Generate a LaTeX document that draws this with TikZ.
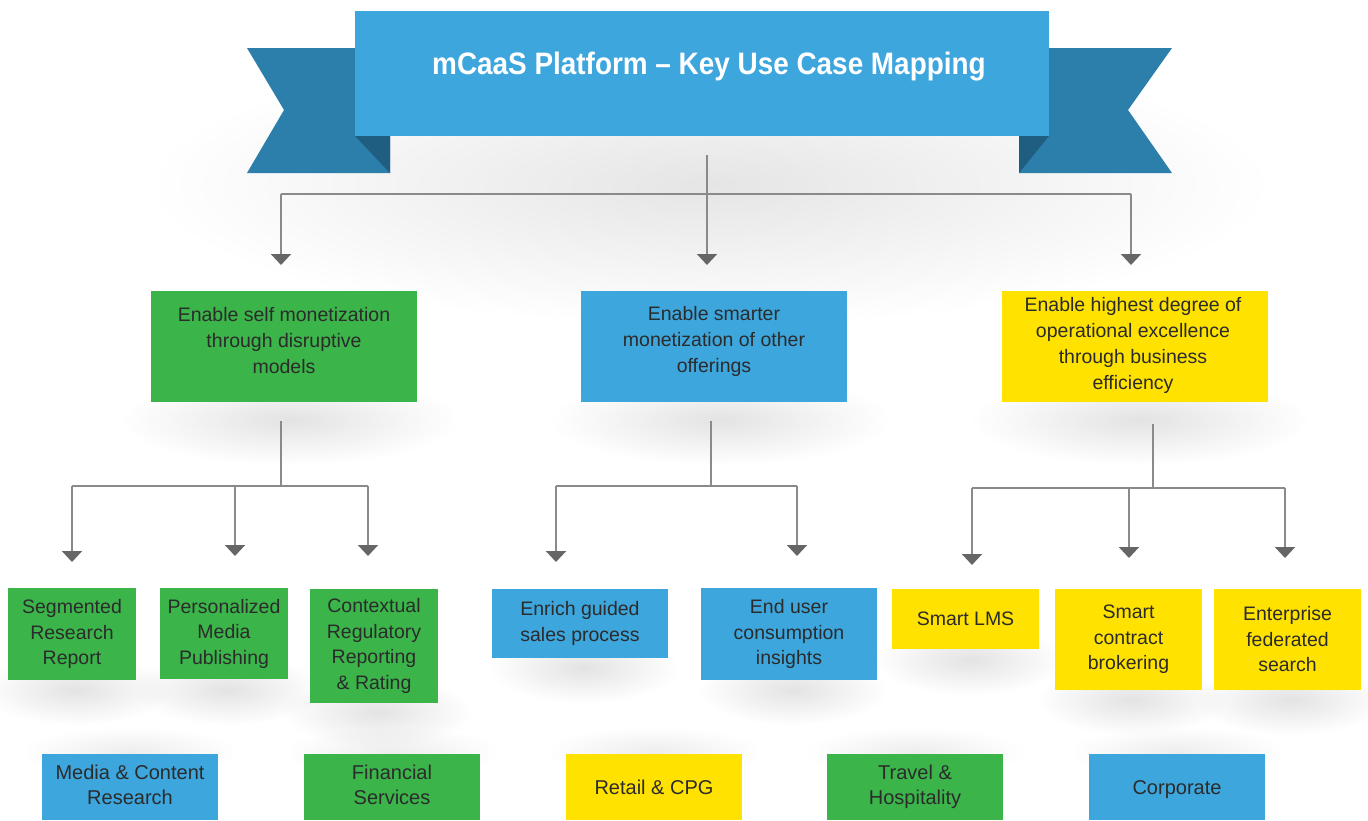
\documentclass[tikz,border=0pt]{standalone}
\usepackage{fontspec}
\setmainfont{Liberation Sans}
\usepackage{graphicx}
\usetikzlibrary{arrows.meta,fadings}
\definecolor{mblue}{HTML}{3DA6DD}
\definecolor{mgreen}{HTML}{3BB44A}
\definecolor{myellow}{HTML}{FFE200}
\definecolor{tailblue}{HTML}{2D7FAB}
\definecolor{foldblue}{HTML}{1F5E80}
\definecolor{txt}{HTML}{2B2B2B}
\definecolor{lineg}{HTML}{8A8A8A}
\definecolor{headg}{HTML}{666666}
\tikzfading[name=softfade, inner color=transparent!0, outer color=transparent!100]
\begin{document}
\begin{tikzpicture}[x=1pt,y=-1pt,
  box/.style={inner sep=0pt, outer sep=0pt, align=center, text=txt, font=\fontsize{19.5}{26}\selectfont},
  leaf/.style={box, font=\fontsize{19.5}{25.5}\selectfont},
  sector/.style={box, font=\fontsize{20}{25}\selectfont},
  conn/.style={draw=lineg, line width=2pt},
  arr/.style={conn, -{Triangle[width=20pt,length=11pt,color=headg]}},
  shadowfx/.style={fill=black, opacity=0.11, path fading=softfade}
]
\useasboundingbox (0,0) rectangle (1368,820);
\fill[white] (0,0) rectangle (1368,820);

% soft shadows
\fill[shadowfx, opacity=0.10] (710,185) ellipse (560 and 140);
\fill[shadowfx] (290,420) ellipse (170 and 45);
\fill[shadowfx] (720,420) ellipse (170 and 45);
\fill[shadowfx] (1140,420) ellipse (170 and 45);
\foreach \cx/\cy in {76/690, 228/690, 378/712, 584/668, 793/690, 970/660, 1132/700, 1291/700}
  \fill[shadowfx] (\cx,\cy) ellipse (95 and 35);
\foreach \cx in {130,392,654,915,1177}
  \fill[shadowfx, opacity=0.07] (\cx,752) ellipse (110 and 25);

% banner
\fill[tailblue] (247,48) -- (390,48) -- (390,173) -- (247,173) -- (284,110) -- cycle;
\fill[tailblue] (1019,48) -- (1172,48) -- (1128,110) -- (1172,173) -- (1019,173) -- cycle;
\fill[foldblue] (355,136) -- (390,136) -- (390,173) -- cycle;
\fill[foldblue] (1049,136) -- (1019,136) -- (1019,173) -- cycle;
\node[fill=mblue, inner sep=0pt, minimum width=694, minimum height=125] (banner) at (702,73.5) {};
\node[text=white, inner sep=0pt] (title) at (709,67)
  {\scalebox{0.9}[1]{\fontsize{31}{31}\selectfont\bfseries mCaaS Platform – Key Use Case Mapping}};

% level 1
\node[box, fill=mgreen, minimum width=266, minimum height=111] (g1) at (284,346.5) {};
\node[box] (g1t) at (284,341) {Enable self monetization\\through disruptive\\models};
\node[box, fill=mblue, minimum width=266, minimum height=111] (b1) at (714,346.5) {};
\node[box] (b1t) at (714,341) {Enable smarter\\monetization of other\\offerings};
\node[box, fill=myellow, minimum width=266, minimum height=111] (y1) at (1135,346.5) {};
\node[box] (y1t) at (1133,345) {Enable highest degree of\\operational excellence\\through business\\efficiency};

% leaves
\node[leaf, fill=mgreen, minimum width=128, minimum height=92] (l1) at (72,634) {Segmented\\Research\\Report};
\node[leaf, fill=mgreen, minimum width=128, minimum height=91] (l2) at (224,633.5) {Personalized\\Media\\Publishing};
\node[leaf, fill=mgreen, minimum width=128, minimum height=114] (l3) at (374,646) {Contextual\\Regulatory\\Reporting\\\& Rating};
\node[leaf, fill=mblue, minimum width=176, minimum height=69] (l4) at (580,623.5) {Enrich guided\\sales process};
\node[leaf, fill=mblue, minimum width=176, minimum height=92] (l5) at (789,634) {End user\\consumption\\insights};
\node[leaf, fill=myellow, minimum width=147, minimum height=60] (l6) at (965.5,619) {Smart LMS};
\node[leaf, fill=myellow, minimum width=147, minimum height=101] (l7) at (1128.5,639.5) {Smart\\contract\\brokering};
\node[leaf, fill=myellow, minimum width=147, minimum height=101] (l8) at (1287.5,639.5) {Enterprise\\federated\\search};

% sectors
\node[sector, fill=mblue, minimum width=176, minimum height=66] (s1) at (130,787) {};
\node[sector] (s1t) at (130,785) {Media \& Content\\Research};
\node[sector, fill=mgreen, minimum width=176, minimum height=66] (s2) at (392,787) {};
\node[sector] (s2t) at (392,785) {Financial\\Services};
\node[sector, fill=myellow, minimum width=176, minimum height=66] (s3) at (654,787) {Retail \& CPG};
\node[sector, fill=mgreen, minimum width=176, minimum height=66] (s4) at (915,787) {Travel \&\\Hospitality};
\node[sector, fill=mblue, minimum width=176, minimum height=66] (s5) at (1177,787) {};
\node[sector] (s5t) at (1177,790) {Corporate};

% connectors: top
\coordinate (t0) at (707,155);
\coordinate (tL) at (281,194);
\coordinate (tR) at (1131,194);
\coordinate (ta1) at (281,265);
\coordinate (ta2) at (707,265);
\coordinate (ta3) at (1131,265);
\draw[conn] (tL) -- (tR);
\draw[arr] (t0) -- (ta2);
\draw[arr] (tL) -- (ta1);
\draw[arr] (tR) -- (ta3);

% connectors: left group
\coordinate (g0) at (281,421);
\coordinate (gm) at (281,486);
\coordinate (gL) at (72,486);
\coordinate (gC) at (235,486);
\coordinate (gR) at (368,486);
\coordinate (ga1) at (72,562);
\coordinate (ga2) at (235,556);
\coordinate (ga3) at (368,556);
\draw[conn] (g0) -- (gm);
\draw[conn] (gL) -- (gR);
\draw[arr] (gL) -- (ga1);
\draw[arr] (gC) -- (ga2);
\draw[arr] (gR) -- (ga3);

% connectors: middle group
\coordinate (b0) at (711,421);
\coordinate (bm) at (711,486);
\coordinate (bL) at (556,486);
\coordinate (bR) at (797,486);
\coordinate (ba1) at (556,562);
\coordinate (ba2) at (797,556);
\draw[conn] (b0) -- (bm);
\draw[conn] (bL) -- (bR);
\draw[arr] (bL) -- (ba1);
\draw[arr] (bR) -- (ba2);

% connectors: right group
\coordinate (y0) at (1153,424);
\coordinate (ym) at (1153,488);
\coordinate (yL) at (972,488);
\coordinate (yC) at (1129,488);
\coordinate (yR) at (1285,488);
\coordinate (ya1) at (972,565);
\coordinate (ya2) at (1129,558);
\coordinate (ya3) at (1285,558);
\draw[conn] (y0) -- (ym);
\draw[conn] (yL) -- (yR);
\draw[arr] (yL) -- (ya1);
\draw[arr] (yC) -- (ya2);
\draw[arr] (yR) -- (ya3);
\end{tikzpicture}
\end{document}
